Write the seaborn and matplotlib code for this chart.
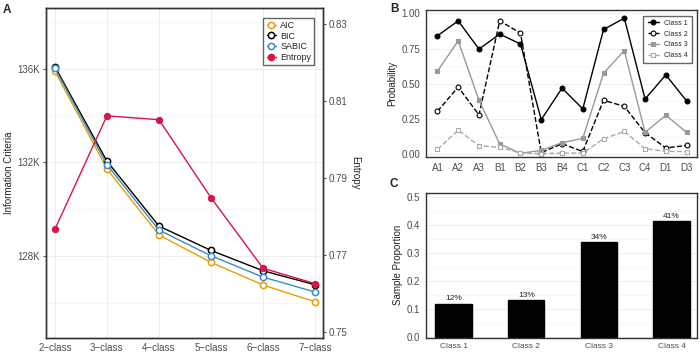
import numpy as np
import pandas as pd
import matplotlib
matplotlib.use("Agg")
import matplotlib.pyplot as plt
import seaborn as sns
from matplotlib.ticker import FuncFormatter, MultipleLocator

# ---- data ----
models = ["2\u2212class", "3\u2212class", "4\u2212class", "5\u2212class", "6\u2212class", "7\u2212class"]
aic = [135910, 131730, 128900, 127730, 126760, 126040]
bic = [136100, 132060, 129280, 128240, 127370, 126770]
sabic = [136030, 131910, 129110, 128010, 127100, 126460]
entropy = [0.7767, 0.8062, 0.8052, 0.7849, 0.7666, 0.7626]

items = ["A1", "A2", "A3", "B1", "B2", "B3", "B4", "C1", "C2", "C3", "C4", "D1", "D3"]
class1 = [0.84, 0.946, 0.746, 0.852, 0.782, 0.246, 0.469, 0.322, 0.885, 0.965, 0.392, 0.563, 0.378]
class2 = [0.305, 0.477, 0.279, 0.946, 0.859, 0.012, 0.075, 0.02, 0.383, 0.340, 0.153, 0.045, 0.063]
class3 = [0.589, 0.805, 0.383, 0.073, 0.007, 0.028, 0.082, 0.113, 0.575, 0.735, 0.155, 0.277, 0.155]
class4 = [0.035, 0.171, 0.061, 0.049, 0.009, 0.005, 0.009, 0.009, 0.110, 0.162, 0.040, 0.021, 0.019]

class_names = ["Class 1", "Class 2", "Class 3", "Class 4"]
proportions = [0.117, 0.131, 0.337, 0.412]

sns.set_theme(style="white")
plt.rcParams["font.family"] = ["Liberation Sans", "DejaVu Sans"]

fig = plt.figure(figsize=(7, 3.52), dpi=100)
frame = "#333333"
gridc = "#EBEBEB"


def style_axes(ax):
    for s in ax.spines.values():
        s.set_color(frame)
        s.set_linewidth(1.0)
    ax.tick_params(axis="both", length=2.5, width=0.6, color=frame,
                   labelsize=7, labelcolor="#4D4D4D", pad=1.5, direction="out")
    ax.set_axisbelow(True)


# ---- panel A ----
axA = fig.add_axes([0.0657, 0.040, 0.3957, 0.937])
axA.grid(True, which="major", color=gridc, linewidth=0.6)
axA.grid(True, which="minor", axis="y", color="#F4F4F4", linewidth=0.5)
ic_series = [("AIC", aic, "#E69F00"), ("BIC", bic, "black"), ("SABIC", sabic, "#3B8BC2")]
handles = []
for name, vals, col in ic_series:
    sns.lineplot(x=models, y=vals, ax=axA, color=col, linewidth=1.0, marker="o",
                 markersize=4.5, markerfacecolor="white", markeredgecolor=col,
                 markeredgewidth=1.1)
    h, = axA.plot([], [], color=col, linewidth=1.0, marker="o", markersize=4.5,
                  markerfacecolor="white", markeredgecolor=col, markeredgewidth=1.1)
    handles.append((h, name))
axA.set_ylim(124500, 138600)
axA.set_xlim(-0.17, 5.15)
axA.yaxis.set_major_locator(MultipleLocator(4000))
axA.yaxis.set_minor_locator(MultipleLocator(2000))
axA.yaxis.set_major_formatter(FuncFormatter(lambda v, p: f"{int(round(v / 1000))}K"))
axA.set_ylabel("Information Criteria", fontsize=7, color="#222222", labelpad=3)
axA.set_xlabel("")
style_axes(axA)
axA.tick_params(axis="y", which="minor", length=0)

axA2 = axA.twinx()
ent_col = "#D7154A"
sns.lineplot(x=models, y=entropy, ax=axA2, color=ent_col, linewidth=1.0, marker="o",
             markersize=4.5, markeredgecolor=ent_col)
he, = axA2.plot([], [], color=ent_col, linewidth=1.0, marker="o", markersize=4.5)
handles.append((he, "Entropy"))
axA2.set_ylim(0.7485, 0.8342)
axA2.set_yticks([0.75, 0.77, 0.79, 0.81, 0.83])
axA2.set_ylabel("Entropy", fontsize=7, color="#222222", rotation=270, labelpad=9)
axA2.grid(False)
style_axes(axA2)
axA2.legend([h for h, _ in handles], [n for _, n in handles], loc="upper right",
            bbox_to_anchor=(0.985, 0.985), fontsize=6.5, frameon=True, fancybox=False,
            edgecolor="#666666", framealpha=1, handlelength=1.0, handletextpad=0.5,
            borderpad=0.35, labelspacing=0.2)

# ---- panel B ----
axB = fig.add_axes([0.6086, 0.554, 0.3871, 0.4176])
axB.grid(True, which="major", axis="y", color=gridc, linewidth=0.6)
axB.grid(True, which="minor", axis="y", color="#F4F4F4", linewidth=0.5)
b_series = [
    ("Class 1", class1, "black", "-", "o", "black"),
    ("Class 2", class2, "black", "--", "o", "white"),
    ("Class 3", class3, "#999999", "-", "s", "#999999"),
    ("Class 4", class4, "#AAAAAA", "--", "s", "white"),
]
bh = []
for name, vals, col, ls, mk, fc in b_series:
    sns.lineplot(x=items, y=vals, ax=axB, color=col, linewidth=1.0, linestyle=ls,
                 marker=mk, markersize=3.5, markerfacecolor=fc, markeredgecolor=col,
                 markeredgewidth=0.8)
    h, = axB.plot([], [], color=col, linewidth=1.0, linestyle=ls, marker=mk,
                  markersize=3.5, markerfacecolor=fc, markeredgecolor=col,
                  markeredgewidth=0.8)
    bh.append((h, name))
axB.set_xlim(-0.55, 12.5)
axB.set_ylim(-0.019, 1.023)
axB.yaxis.set_major_locator(MultipleLocator(0.25))
axB.yaxis.set_minor_locator(MultipleLocator(0.125))
axB.yaxis.set_major_formatter(FuncFormatter(lambda v, p: f"{v:.2f}"))
axB.set_ylabel("Probability", fontsize=7, color="#222222", labelpad=3)
axB.set_xlabel("")
style_axes(axB)
axB.tick_params(axis="y", which="minor", length=0)
axB.legend([h for h, _ in bh], [n for _, n in bh], loc="upper right",
           bbox_to_anchor=(0.995, 0.985), fontsize=5, frameon=True, fancybox=False,
           edgecolor="#666666", framealpha=1, handlelength=1.6, handletextpad=0.8,
           borderpad=0.6, labelspacing=0.55)

# ---- panel C ----
axC = fig.add_axes([0.6086, 0.0406, 0.3871, 0.412])
axC.grid(True, which="major", color=gridc, linewidth=0.6)
axC.grid(True, which="minor", axis="y", color="#F4F4F4", linewidth=0.5)
dfC = pd.DataFrame({"cls": class_names, "prop": proportions})
sns.barplot(data=dfC, x="cls", y="prop", ax=axC, color="black", width=0.5,
            saturation=1, edgecolor="black")
axC.bar_label(axC.containers[0], labels=[f"{round(p * 100):.0f}%" for p in proportions],
              fontsize=6, padding=1, color="#222222")
axC.set_xlim(-0.38, 3.35)
axC.set_ylim(-0.004, 0.514)
axC.yaxis.set_major_locator(MultipleLocator(0.1))
axC.yaxis.set_minor_locator(MultipleLocator(0.05))
axC.yaxis.set_major_formatter(FuncFormatter(lambda v, p: f"{v:.1f}"))
axC.set_ylabel("Sample Proportion", fontsize=7, color="#222222", labelpad=3)
axC.set_xlabel("")
style_axes(axC)
axC.tick_params(axis="x", labelsize=6)
axC.tick_params(axis="y", which="minor", length=0)

# panel tags
for tag, x, y in [("A", 0.004, 0.99), ("B", 0.557, 0.992), ("C", 0.557, 0.495)]:
    fig.text(x, y, tag, fontsize=8.5, fontweight="bold", va="top", ha="left")

fig.savefig("out.png", dpi=100)
